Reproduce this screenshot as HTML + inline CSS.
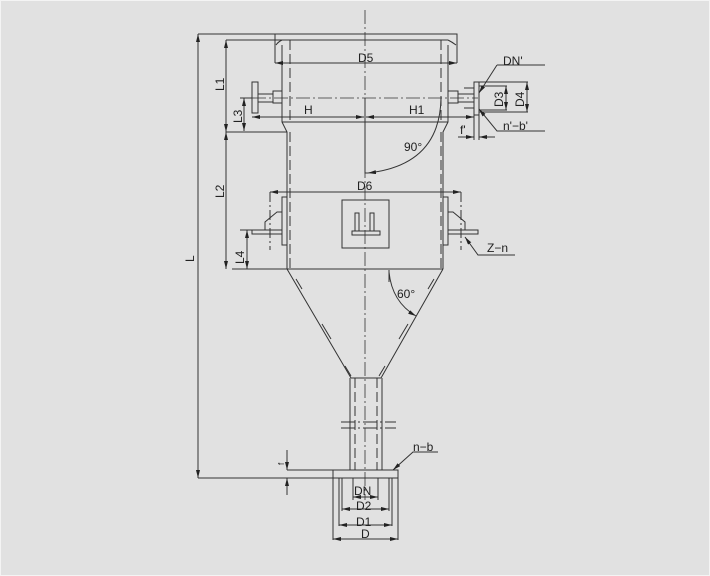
<!DOCTYPE html>
<html><head><meta charset="utf-8"><style>
html,body{margin:0;padding:0;background:#e1e1e1}
svg{display:block}
text{font-family:"Liberation Sans",sans-serif;font-size:12px;fill:#222}
</style></head><body>
<svg width="710" height="576" viewBox="0 0 710 576" xmlns="http://www.w3.org/2000/svg">
<rect x="0" y="0" width="710" height="576" fill="#e1e1e1"/>
<rect x="0.5" y="0.5" width="709" height="575" fill="none" stroke="#f4f4f4"/>
<defs>
<marker id="a" viewBox="0 0 8 4" refX="8" refY="2" markerWidth="8" markerHeight="4" orient="auto-start-reverse"><path d="M0,0L8,2L0,4z" fill="#222"/></marker>
</defs>
<g stroke="#333" stroke-width="1" fill="none">
<line x1="365" y1="10" x2="365" y2="500" stroke-dasharray="14,3,2,3" stroke-width="0.8"/>
<path d="M275,34H457V63M275,34V63"/>
<path d="M282,40H448M282,40Q278,42 276,45M448,40Q452,42 456,45"/>
<line x1="290" y1="40" x2="290" y2="122" stroke-dasharray="10,4"/>
<line x1="441" y1="40" x2="441" y2="122" stroke-dasharray="10,4"/>
<path d="M282,45V122L287,132V269M448,45V122L443,132V269"/>
<line x1="282" y1="122" x2="448" y2="122"/>
<line x1="290" y1="132" x2="290" y2="269" stroke-dasharray="10,4"/>
<line x1="441" y1="132" x2="441" y2="269" stroke-dasharray="10,4"/>
<line x1="287" y1="269" x2="443" y2="269"/>
<path d="M198,34H275M226,40H282M226,132H287M232,269H287M198,478H333"/>
<line x1="198" y1="34" x2="198" y2="478" marker-start="url(#a)" marker-end="url(#a)"/>
<line x1="226" y1="40" x2="226" y2="132" marker-start="url(#a)" marker-end="url(#a)"/>
<line x1="226" y1="132" x2="226" y2="269" marker-start="url(#a)" marker-end="url(#a)"/>
<line x1="244" y1="98" x2="244" y2="131" marker-start="url(#a)" marker-end="url(#a)"/>
<line x1="247" y1="230" x2="247" y2="269" marker-start="url(#a)" marker-end="url(#a)"/>
<line x1="240" y1="98" x2="252" y2="98"/>
<line x1="240" y1="230" x2="252" y2="230"/>
<line x1="275" y1="63" x2="457" y2="63" marker-start="url(#a)" marker-end="url(#a)"/>
<line x1="252" y1="98" x2="478" y2="98" stroke-dasharray="14,3,2,3" stroke-width="0.8"/>
<rect x="252" y="82" width="6" height="31"/>
<path d="M258,94H273M258,102H273"/>
<rect x="273" y="91" width="9" height="12"/>
<rect x="448" y="91" width="10" height="12"/>
<path d="M458,94H474M458,102H474M464,88H474M464,108H474"/>
<rect x="474" y="82" width="5" height="33"/>
<line x1="252" y1="117" x2="364" y2="117" marker-start="url(#a)" marker-end="url(#a)"/>
<line x1="366" y1="117" x2="474" y2="117" marker-start="url(#a)" marker-end="url(#a)"/>
<path d="M479,86H507M479,110H507M479,82H528M479,112H528"/>
<line x1="506" y1="86" x2="506" y2="110" marker-start="url(#a)" marker-end="url(#a)"/>
<line x1="527" y1="82" x2="527" y2="112" marker-start="url(#a)" marker-end="url(#a)"/>
<path d="M497,65H545M497,65L479,93" marker-end="url(#a)"/>
<path d="M545,131H497L479,109" marker-end="url(#a)"/>
<path d="M474,115V140M479,115V140"/>
<line x1="458" y1="137" x2="474" y2="137" marker-end="url(#a)"/>
<line x1="495" y1="137" x2="479" y2="137" marker-end="url(#a)"/>
<path d="M365,98V173H368"/>
<path d="M441,98Q440,165 368,173" marker-end="url(#a)"/>
<line x1="270" y1="192" x2="461" y2="192" marker-start="url(#a)" marker-end="url(#a)"/>
<line x1="270" y1="192" x2="270" y2="250" stroke-dasharray="10,3,2,3"/>
<line x1="461" y1="192" x2="461" y2="250" stroke-dasharray="10,3,2,3"/>
<rect x="282" y="197" width="5" height="48"/>
<rect x="443" y="197" width="5" height="48"/>
<path d="M252,230H282V234H252zM265,230L265,222L277,212H282M478,230H448V234H478zM465,230L465,222L453,212H448"/>
<path d="M465,237L478,255H515" marker-start="url(#a)"/>
<rect x="342" y="200" width="47" height="48"/>
<rect x="355" y="213" width="4" height="18"/>
<rect x="370" y="213" width="4" height="18"/>
<rect x="352" y="231" width="28" height="4"/>
<path d="M287,269L351,378M443,269L381,378"/>
<path d="M296,279L302,289M322,324L331,339M345,366L351,376M434,279L428,289M408,324L399,339M385,366L379,376"/>
<line x1="389" y1="282" x2="389" y2="270"/>
<path d="M389,272Q392,302 416,316" marker-end="url(#a)"/>
<path d="M351,378H381M350,378V470M382,378V470"/>
<line x1="355" y1="378" x2="355" y2="470" stroke-dasharray="10,4"/>
<line x1="377" y1="378" x2="377" y2="470" stroke-dasharray="10,4"/>
<line x1="341" y1="422" x2="396" y2="422" stroke-dasharray="14,3,2,3"/>
<line x1="341" y1="428" x2="396" y2="428" stroke-dasharray="14,3,2,3"/>
<rect x="333" y="470" width="65" height="8"/>
<path d="M287,470H333"/>
<path d="M333,478V540M398,478V540M339,478V526M392,478V526M342,478V511M389,478V511M353,478V500M378,478V500"/>
<line x1="287" y1="450" x2="287" y2="470" marker-end="url(#a)"/>
<line x1="287" y1="495" x2="287" y2="478" marker-end="url(#a)"/>
<line x1="353" y1="497" x2="378" y2="497" marker-start="url(#a)" marker-end="url(#a)"/>
<line x1="342" y1="509" x2="389" y2="509" marker-start="url(#a)" marker-end="url(#a)"/>
<line x1="339" y1="525" x2="392" y2="525" marker-start="url(#a)" marker-end="url(#a)"/>
<line x1="333" y1="539" x2="398" y2="539" marker-start="url(#a)" marker-end="url(#a)"/>
<path d="M438,452H413L393,470" marker-end="url(#a)"/>
</g>
<text x="358" y="62">D5</text>
<text x="304" y="114">H</text>
<text x="409" y="114">H1</text>
<text x="404" y="151">90°</text>
<text x="357" y="190">D6</text>
<text x="397" y="298">60°</text>
<text x="503" y="65">DN'</text>
<text x="503" y="130">n'−b'</text>
<text x="460" y="134">f'</text>
<text x="487" y="252">Z−n</text>
<text x="413" y="451">n−b</text>
<text x="354" y="495">DN</text>
<text x="356" y="510">D2</text>
<text x="356" y="526">D1</text>
<text x="361" y="538">D</text>
<text transform="translate(224,91) rotate(-90)">L1</text>
<text transform="translate(224,198) rotate(-90)">L2</text>
<text transform="translate(242,123) rotate(-90)">L3</text>
<text transform="translate(244,264) rotate(-90)">L4</text>
<text transform="translate(194,262) rotate(-90)">L</text>
<text transform="translate(503,107) rotate(-90)">D3</text>
<text transform="translate(524,107) rotate(-90)">D4</text>
<text transform="translate(284,465) rotate(-90)" style="font-size:8px">f</text>
</svg>
</body></html>
